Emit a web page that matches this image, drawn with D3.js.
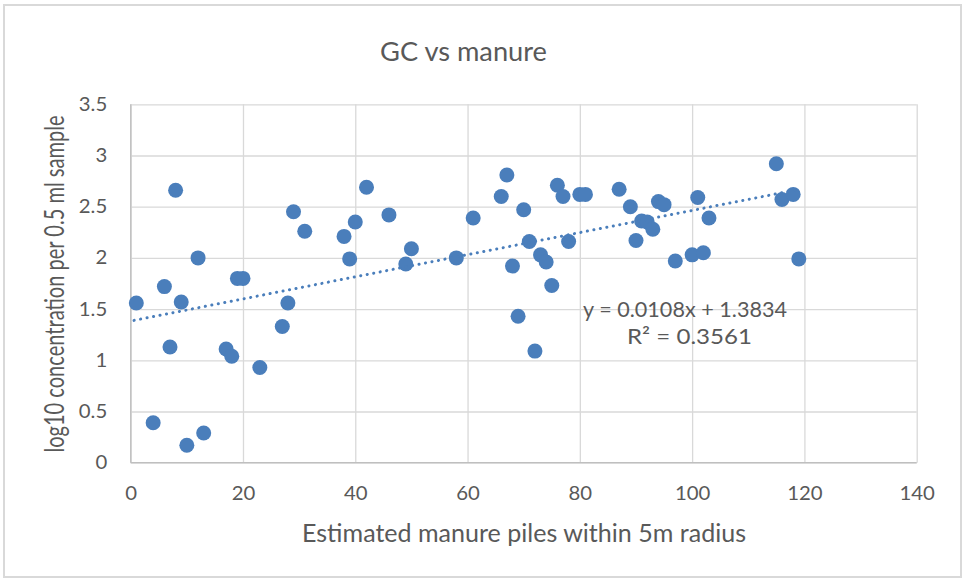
<!DOCTYPE html>
<html>
<head>
<meta charset="utf-8">
<script src="https://cdn.jsdelivr.net/npm/d3@7"></script>
<style>
  body { margin: 0; background: #fff; }
  text { font-family: Lato, 'Open Sans', sans-serif; fill: #595959; }
</style>
</head>
<body>
<svg id="chart" width="964" height="580"></svg>
<script>
var piles = [1, 4, 6, 7, 8, 9, 10, 12, 13, 17, 18, 19, 20, 23, 27, 28, 29, 31, 38, 39,
  40, 42, 46, 49, 50, 58, 61, 66, 67, 68, 69, 70, 71, 72, 73, 74, 75, 76, 77, 78,
  80, 81, 87, 89, 90, 91, 92, 93, 94, 95, 97, 100, 101, 102, 103, 115, 116, 118, 119];
var logConc = [1.56, 0.39, 1.72, 1.13, 2.66, 1.57, 0.17, 2.0, 0.29, 1.11, 1.04, 1.80, 1.80, 0.93, 1.33, 1.56, 2.45, 2.26, 2.21, 1.99,
  2.35, 2.69, 2.42, 1.94, 2.09, 2.0, 2.39, 2.60, 2.81, 1.92, 1.43, 2.47, 2.16, 1.09, 2.03, 1.96, 1.73, 2.71, 2.60, 2.16,
  2.62, 2.62, 2.67, 2.50, 2.17, 2.36, 2.35, 2.28, 2.55, 2.52, 1.97, 2.03, 2.59, 2.05, 2.39, 2.92, 2.57, 2.62, 1.99];
var slope = 0.0108;
var intercept = 1.3834;
var rSquared = 0.3561;
var xTicks = [0, 20, 40, 60, 80, 100, 120, 140];
var yTicks = [0, 0.5, 1, 1.5, 2, 2.5, 3, 3.5];

var data = piles.map(function (p, i) {
  return { x: p, y: logConc[i] };
});

var svg = d3.select('#chart');
var borders = { left: 130.7, right: 916.7, top: 104.3, bottom: 462.7 };
var mColor = '#4a7ebb';

// stretch text horizontally (the source text is a bit wider than Lato)
function stretch(sel, k) {
  sel.each(function () {
    var w = this.getComputedTextLength();
    d3.select(this)
      .attr('textLength', w * k)
      .attr('lengthAdjust', 'spacingAndGlyphs');
  });
}

// outer chart frame
svg.append('rect')
  .attr('x', 4).attr('y', 5)
  .attr('width', 957).attr('height', 572)
  .attr('fill', '#fff')
  .attr('stroke', '#d9d9d9')
  .attr('stroke-width', 2);

var xScale = d3.scaleLinear()
  .domain([0, 140])
  .range([borders.left, borders.right]);

var yScale = d3.scaleLinear()
  .domain([0, 3.5])
  .range([borders.bottom, borders.top]);

var xAxis = d3.axisBottom(xScale)
  .tickValues(xTicks)
  .tickSize(-(borders.bottom - borders.top))
  .tickPadding(24)
  .tickFormat(d3.format('d'));

var yAxis = d3.axisLeft(yScale)
  .tickValues(yTicks)
  .tickSize(-(borders.right - borders.left))
  .tickPadding(23.5)
  .tickFormat(function (d) { return String(d); });

var gx = svg.append('g')
  .attr('transform', 'translate(0,' + borders.bottom + ')')
  .call(xAxis);

var gy = svg.append('g')
  .attr('transform', 'translate(' + borders.left + ',0)')
  .call(yAxis);

[gx, gy].forEach(function (g) {
  g.select('.domain').remove();
  g.selectAll('line').attr('stroke', '#d9d9d9').attr('stroke-width', 1.3);
  g.selectAll('text').attr('font-size', 18.5).attr('fill', '#595959');
  stretch(g.selectAll('text'), 1.1);
});

// axis lines
svg.append('line')
  .attr('x1', borders.left).attr('x2', borders.left)
  .attr('y1', borders.top).attr('y2', borders.bottom)
  .attr('stroke', '#bfbfbf').attr('stroke-width', 1.3);
svg.append('line')
  .attr('x1', borders.left).attr('x2', borders.right)
  .attr('y1', borders.bottom).attr('y2', borders.bottom)
  .attr('stroke', '#bfbfbf').attr('stroke-width', 1.3);

// points
svg.selectAll('circle')
  .data(data)
  .enter()
  .append('circle')
  .attr('cx', function (d) { return xScale(d.x); })
  .attr('cy', function (d) { return yScale(d.y); })
  .attr('r', 7.5)
  .attr('fill', mColor);

// trendline
var xExt = d3.extent(piles);
svg.append('line')
  .attr('x1', xScale(xExt[0] - 0.4))
  .attr('y1', yScale(slope * (xExt[0] - 0.4) + intercept))
  .attr('x2', xScale(xExt[1]))
  .attr('y2', yScale(slope * xExt[1] + intercept))
  .attr('stroke', mColor)
  .attr('stroke-width', 3)
  .attr('stroke-linecap', 'round')
  .attr('stroke-dasharray', '0.1 6.5');

// equation
svg.append('text')
  .attr('x', 685).attr('y', 316.5)
  .attr('text-anchor', 'middle')
  .attr('font-size', 22)
  .attr('textLength', 204)
  .attr('lengthAdjust', 'spacingAndGlyphs')
  .text('y = ' + slope + 'x + ' + intercept);
svg.append('text')
  .attr('x', 689.5).attr('y', 343.5)
  .attr('text-anchor', 'middle')
  .attr('font-size', 22)
  .attr('textLength', 125)
  .attr('lengthAdjust', 'spacingAndGlyphs')
  .text('R² = ' + rSquared);

// title
svg.append('text')
  .attr('x', 463.5).attr('y', 60.5)
  .attr('text-anchor', 'middle')
  .attr('font-size', 27.5)
  .attr('textLength', 167)
  .attr('lengthAdjust', 'spacingAndGlyphs')
  .text('GC vs manure');

// x label
svg.append('text')
  .attr('x', 524).attr('y', 542)
  .attr('text-anchor', 'middle')
  .attr('font-size', 25)
  .attr('textLength', 444)
  .attr('lengthAdjust', 'spacingAndGlyphs')
  .text('Estimated manure piles within 5m radius');

// y label
svg.append('text')
  .attr('transform', 'translate(64,284) rotate(-90)')
  .attr('text-anchor', 'middle')
  .attr('font-size', 27)
  .attr('textLength', 337)
  .attr('lengthAdjust', 'spacingAndGlyphs')
  .text('log10 concentration per 0.5 ml sample');
</script>
</body>
</html>
